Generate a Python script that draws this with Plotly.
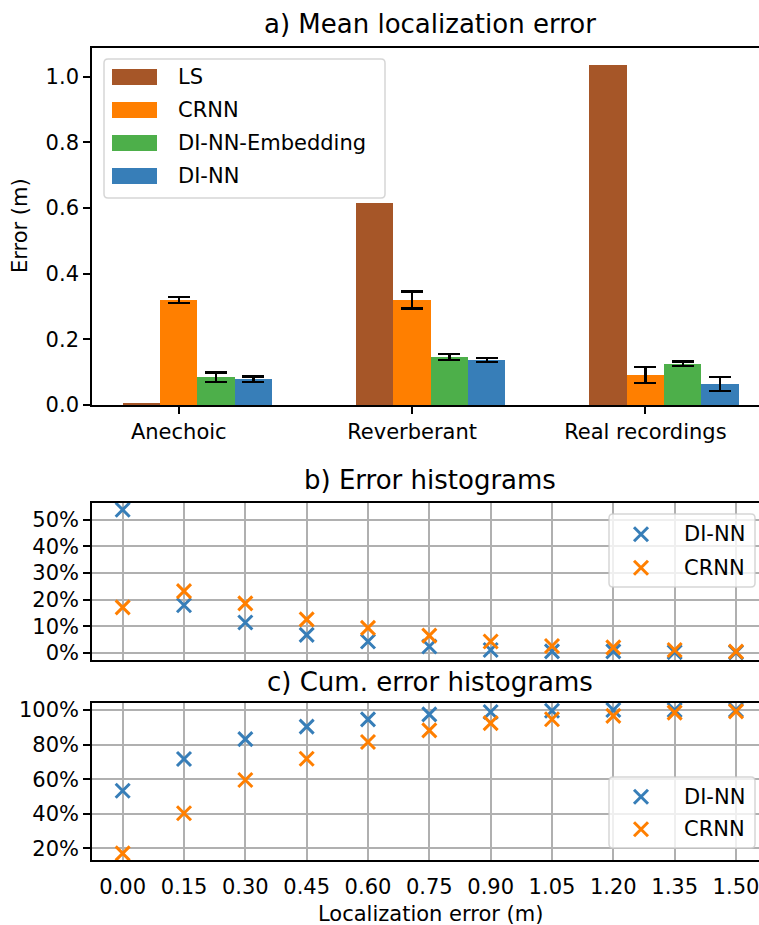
import plotly.graph_objects as go

# ---------------- data ----------------
categories = ["Anechoic", "Reverberant", "Real recordings"]
methods = ["LS", "CRNN", "DI-NN-Embedding", "DI-NN"]
ls_mean = [0.006, 0.615, 1.035]
crnn_mean = [0.320, 0.320, 0.091]
crnn_err = [0.009, 0.026, 0.025]
emb_mean = [0.085, 0.146, 0.125]
emb_err = [0.014, 0.009, 0.007]
dinn_mean = [0.079, 0.137, 0.064]
dinn_err = [0.008, 0.007, 0.021]

err_bins = [0.00, 0.15, 0.30, 0.45, 0.60, 0.75, 0.90, 1.05, 1.20, 1.35, 1.50]
dinn_hist = [53.7, 17.9, 11.4, 6.8, 4.3, 2.4, 1.1, 0.6, 0.6, 0.3, 0.2]
crnn_hist = [17.1, 23.2, 18.6, 12.6, 9.4, 6.5, 4.3, 2.6, 2.1, 1.1, 0.5]
dinn_cum = [53.3, 71.7, 83.2, 90.4, 94.6, 97.5, 98.9, 99.6, 100.0, 100.0, 100.0]
crnn_cum = [17.1, 40.3, 59.5, 71.8, 81.5, 88.2, 92.4, 94.7, 96.6, 98.5, 99.2]

hist_ticks = [0, 10, 20, 30, 40, 50]
cum_ticks = [20, 40, 60, 80, 100]
bar_ticks = [0.0, 0.2, 0.4, 0.6, 0.8, 1.0]

colors = {"LS": "#a65628", "CRNN": "#ff7f00", "DI-NN-Embedding": "#4daf4a", "DI-NN": "#377eb8"}

# ---------------- geometry helpers ----------------
W, H = 759, 925
def X(p):
    return p / W
def Y(p):
    return 1 - p / H

FONT = "DejaVu Sans"
TICK = 21
BAR_W = 0.16

fig = go.Figure()

# ---------------- panel a: bars ----------------
xpos = list(range(len(categories)))
series = [("LS", ls_mean, None), ("CRNN", crnn_mean, crnn_err),
          ("DI-NN-Embedding", emb_mean, emb_err), ("DI-NN", dinn_mean, dinn_err)]
for i, (name, vals, errs) in enumerate(series):
    kw = {}
    if errs is not None:
        kw["error_y"] = dict(type="data", array=errs, visible=True, color="black",
                             thickness=2.3, width=11)
    fig.add_trace(go.Bar(x=xpos, y=vals, name=name, width=BAR_W,
                         offset=-1.5 * BAR_W + i * BAR_W,
                         marker=dict(color=colors[name], line=dict(width=0)),
                         xaxis="x", yaxis="y", showlegend=False, **kw))

# ---------------- panel b / c: scatter ----------------
for xa, ya, d_vals, c_vals in [("x2", "y2", dinn_hist, crnn_hist), ("x3", "y3", dinn_cum, crnn_cum)]:
    for name, vals in [("DI-NN", d_vals), ("CRNN", c_vals)]:
        fig.add_trace(go.Scatter(x=err_bins, y=vals, mode="markers", name=name,
                                 marker=dict(symbol="x-thin", size=14, color=colors[name],
                                             line=dict(color=colors[name], width=3)),
                                 xaxis=xa, yaxis=ya, showlegend=False, cliponaxis=False))

axis_common = dict(showline=True, linecolor="black", linewidth=1.6,
                   tickfont=dict(family=FONT, size=TICK, color="black"),
                   zeroline=False, automargin=False)
tick_common = dict(ticks="outside", ticklen=7, tickwidth=1.6, tickcolor="black")
grid_common = dict(showgrid=True, gridcolor="#b0b0b0", gridwidth=1.5)

xdom = [X(92), 1.0]
fig.update_layout(
    width=W, height=H, margin=dict(l=0, r=0, t=0, b=0, pad=0, autoexpand=False),
    paper_bgcolor="white", plot_bgcolor="white",
    font=dict(family=FONT, color="black"),
    bargap=0, barmode="overlay",
    xaxis=dict(domain=xdom, anchor="y", range=[-0.372, 2.487], mirror=True,
               tickvals=xpos, ticktext=categories, showgrid=False,
               **tick_common, **axis_common),
    yaxis=dict(domain=[Y(405), Y(48.3)], anchor="x", range=[0, 1.086],
               tickvals=bar_ticks, ticktext=[f"{v:.1f}" for v in bar_ticks],
               showgrid=False, **tick_common, **axis_common),
    xaxis2=dict(domain=xdom, anchor="y2", range=[-0.075, 1.5563], mirror=True,
                tickvals=err_bins, showticklabels=False, ticks="",
                **grid_common, **axis_common),
    yaxis2=dict(domain=[Y(660.3), Y(503.3)], anchor="x2", range=[-2.75, 56.1],
                tickvals=hist_ticks, ticktext=[f"{v}%" for v in hist_ticks],
                **tick_common, **grid_common, **axis_common),
    xaxis3=dict(domain=xdom, anchor="y3", range=[-0.075, 1.5563], mirror=True,
                tickvals=err_bins, ticktext=[f"{v:.2f}" for v in err_bins],
                ticks="outside", ticklen=7, tickwidth=1.6, tickcolor="rgba(0,0,0,0)",
                ticklabeloverflow="allow",
                **grid_common, **axis_common),
    yaxis3=dict(domain=[Y(860.3), Y(703.3)], anchor="x3", range=[13.06, 103.9],
                tickvals=cum_ticks, ticktext=[f"{v}%" for v in cum_ticks],
                **tick_common, **grid_common, **axis_common),
)

annotations = []
def text(s, x, y, size, xanchor="center", angle=0):
    annotations.append(dict(text=s, x=X(x), y=Y(y), xref="paper", yref="paper",
                            xanchor=xanchor, yanchor="middle", showarrow=False,
                            textangle=angle,
                            font=dict(family=FONT, size=size, color="black")))

text("a) Mean localization error", 430.5, 24, 26)
text("b) Error histograms", 430.5, 480, 26)
text("c) Cum. error histograms", 430.5, 682, 26)
text("Error (m)", 20, 226, 21, angle=-90)
text("Localization error (m)", 430.5, 914, 21)

shapes = []
def rounded_box(x0, y0, x1, y1, r=4):
    px0, px1 = X(x0), X(x1)
    rx = r / W
    ry = r / H
    py0, py1 = Y(y0), Y(y1)
    path = (f"M {px0+rx},{py0} L {px1-rx},{py0} Q {px1},{py0} {px1},{py0-ry} "
            f"L {px1},{py1+ry} Q {px1},{py1} {px1-rx},{py1} "
            f"L {px0+rx},{py1} Q {px0},{py1} {px0},{py1+ry} "
            f"L {px0},{py0-ry} Q {px0},{py0} {px0+rx},{py0} Z")
    shapes.append(dict(type="path", path=path, xref="paper", yref="paper",
                       fillcolor="rgba(255,255,255,0.8)",
                       line=dict(color="rgba(204,204,204,0.8)", width=1.5)))

# legend a
rounded_box(104, 59, 385, 198)
rows_a = [77, 110, 143, 176]
for name, yc in zip(methods, rows_a):
    shapes.append(dict(type="rect", xref="paper", yref="paper",
                       x0=X(112), x1=X(157), y0=Y(yc - 8), y1=Y(yc + 8),
                       fillcolor=colors[name], line=dict(width=0)))
    text(name, 176, yc, 21, xanchor="left")

# legends b, c
def x_glyph(cx, cy, color, r=7):
    for (dx0, dy0, dx1, dy1) in [(-r, -r, r, r), (-r, r, r, -r)]:
        shapes.append(dict(type="line", xref="paper", yref="paper",
                           x0=X(cx + dx0), y0=Y(cy + dy0), x1=X(cx + dx1), y1=Y(cy + dy1),
                           line=dict(color=color, width=3)))

for (top, bot, rows) in [(514, 587, [534.3, 567.7]), (777, 848, [796.7, 829.3])]:
    rounded_box(609, top, 755, bot)
    for name, yc in zip(["DI-NN", "CRNN"], rows):
        x_glyph(641, yc, colors[name])
        text(name, 682, yc, 21, xanchor="left")

fig.update_layout(annotations=annotations, shapes=shapes)
fig.write_html("out.html")
